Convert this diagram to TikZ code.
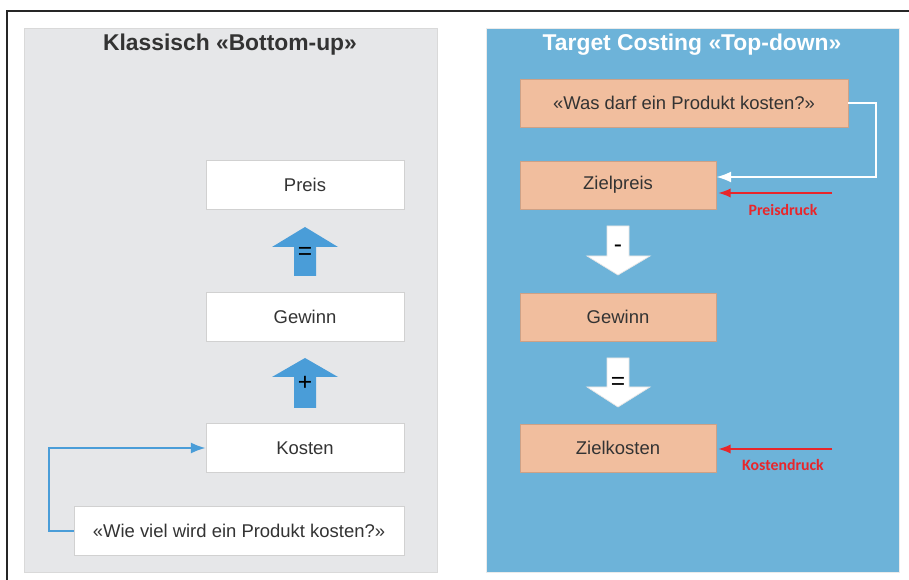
\documentclass[tikz,border=0pt]{standalone}
\usepackage{fontspec}
\setmainfont{Liberation Sans}
\newfontfamily\labelfont{Carlito}
\usetikzlibrary{arrows.meta}
\usetikzlibrary{calc}

\definecolor{panelgray}{HTML}{E6E7E9}
\definecolor{panelblue}{HTML}{6DB3D9}
\definecolor{boxsalmon}{HTML}{F1BE9E}
\definecolor{arrowblue}{HTML}{4A9DD8}
\definecolor{textgray}{HTML}{333333}
\definecolor{druckred}{HTML}{E8262B}

\tikzset{
	whitebox/.style={draw=black!18,fill=white,minimum width=3.96cm,minimum height=0.98cm,inner sep=0pt,text=textgray,font=\fontsize{10.5}{12}\selectfont},
	salmonbox/.style={draw=boxsalmon!85!black,fill=boxsalmon,minimum width=3.92cm,minimum height=0.96cm,inner sep=0pt,text=textgray,font=\fontsize{10.5}{12}\selectfont},
	paneltitle/.style={font=\fontsize{13}{15}\selectfont\bfseries},
	opsym/.style={font=\fontsize{14}{16}\selectfont,inner sep=0pt},
	drucklabel/.style={text=druckred,font=\labelfont\fontsize{9}{10}\selectfont\bfseries},
}

\begin{document}
\begin{tikzpicture}[x=0.02cm,y=-0.02cm,>/.tip={Latex}]
	\useasboundingbox (0,0) rectangle (909,580);
	\fill[white] (0,0) rectangle (909,580);
	% frame
	\draw[line width=0.8pt,black!85] (909,11) -- (7,11) -- (7,580);
	% panels
	\draw[fill=panelgray,draw=black!15] (24,28) rectangle (437,572);
	\draw[fill=panelblue,draw=black!8] (486,28) rectangle (899,572);
	\node[paneltitle,text=textgray] (titleL) at (230,45) {Klassisch «Bottom-up»};
	\node[paneltitle,text=white] (titleR) at (692,45) {Target Costing «Top-down»};

	% bottom-up
	\node[whitebox] (preis) at (305,185) {Preis};
	\node[whitebox] (gewinnL) at (305,317) {Gewinn};
	\node[whitebox] (kosten) at (305,448) {Kosten};
	\node[whitebox,minimum width=6.6cm] (frageL) at (239,531) {«Wie viel wird ein Produkt kosten?»};
	\fill[arrowblue] (305,227) -- (338,247) -- (316,247) -- (316,276) -- (294,276) -- (294,247) -- (272,247) -- cycle;
	\node[opsym] (eqL) at (305,253) {=};
	\fill[arrowblue] (305,358) -- (338,377) -- (316,377) -- (316,408) -- (294,408) -- (294,377) -- (272,377) -- cycle;
	\node[opsym] (plusL) at (305,383) {+};
	\draw[->,arrowblue,line width=1.2pt] (frageL.west) -- ++(-25,0) |- (kosten.west);

	% top-down
	\node[salmonbox,minimum width=6.56cm] (frageR) at (684,103) {«Was darf ein Produkt kosten?»};
	\node[salmonbox] (zielpreis) at (618,185) {Zielpreis};
	\node[salmonbox] (gewinnR) at (618,317) {Gewinn};
	\node[salmonbox] (zielkosten) at (618,448) {Zielkosten};
	\draw[fill=white,draw=black!10] (607,226) -- (629,226) -- (629,256) -- (650,256) -- (618,275) -- (587,256) -- (607,256) -- cycle;
	\node[opsym] (minusR) at (618,249) {-};
	\draw[fill=white,draw=black!10] (607,358) -- (629,358) -- (629,387) -- (650,387) -- (618,407) -- (587,387) -- (607,387) -- cycle;
	\node[opsym] (eqR) at (618,383) {=};
	\draw[->,white,line width=1.2pt] (frageR.east) -- ++(28,0) |- ($(zielpreis.east)+(0,-8)$);
	\coordinate (preisdruckA) at (832,193);
	\coordinate (kostendruckA) at (832,449);
	\draw[->,druckred,line width=0.9pt] (preisdruckA) -- ($(zielpreis.east)+(2,8)$);
	\node[drucklabel] (preisdruck) at (783,210) {Preisdruck};
	\draw[->,druckred,line width=0.9pt] (kostendruckA) -- ($(zielkosten.east)+(2,1)$);
	\node[drucklabel] (kostendruck) at (783,465) {Kostendruck};
\end{tikzpicture}
\end{document}
